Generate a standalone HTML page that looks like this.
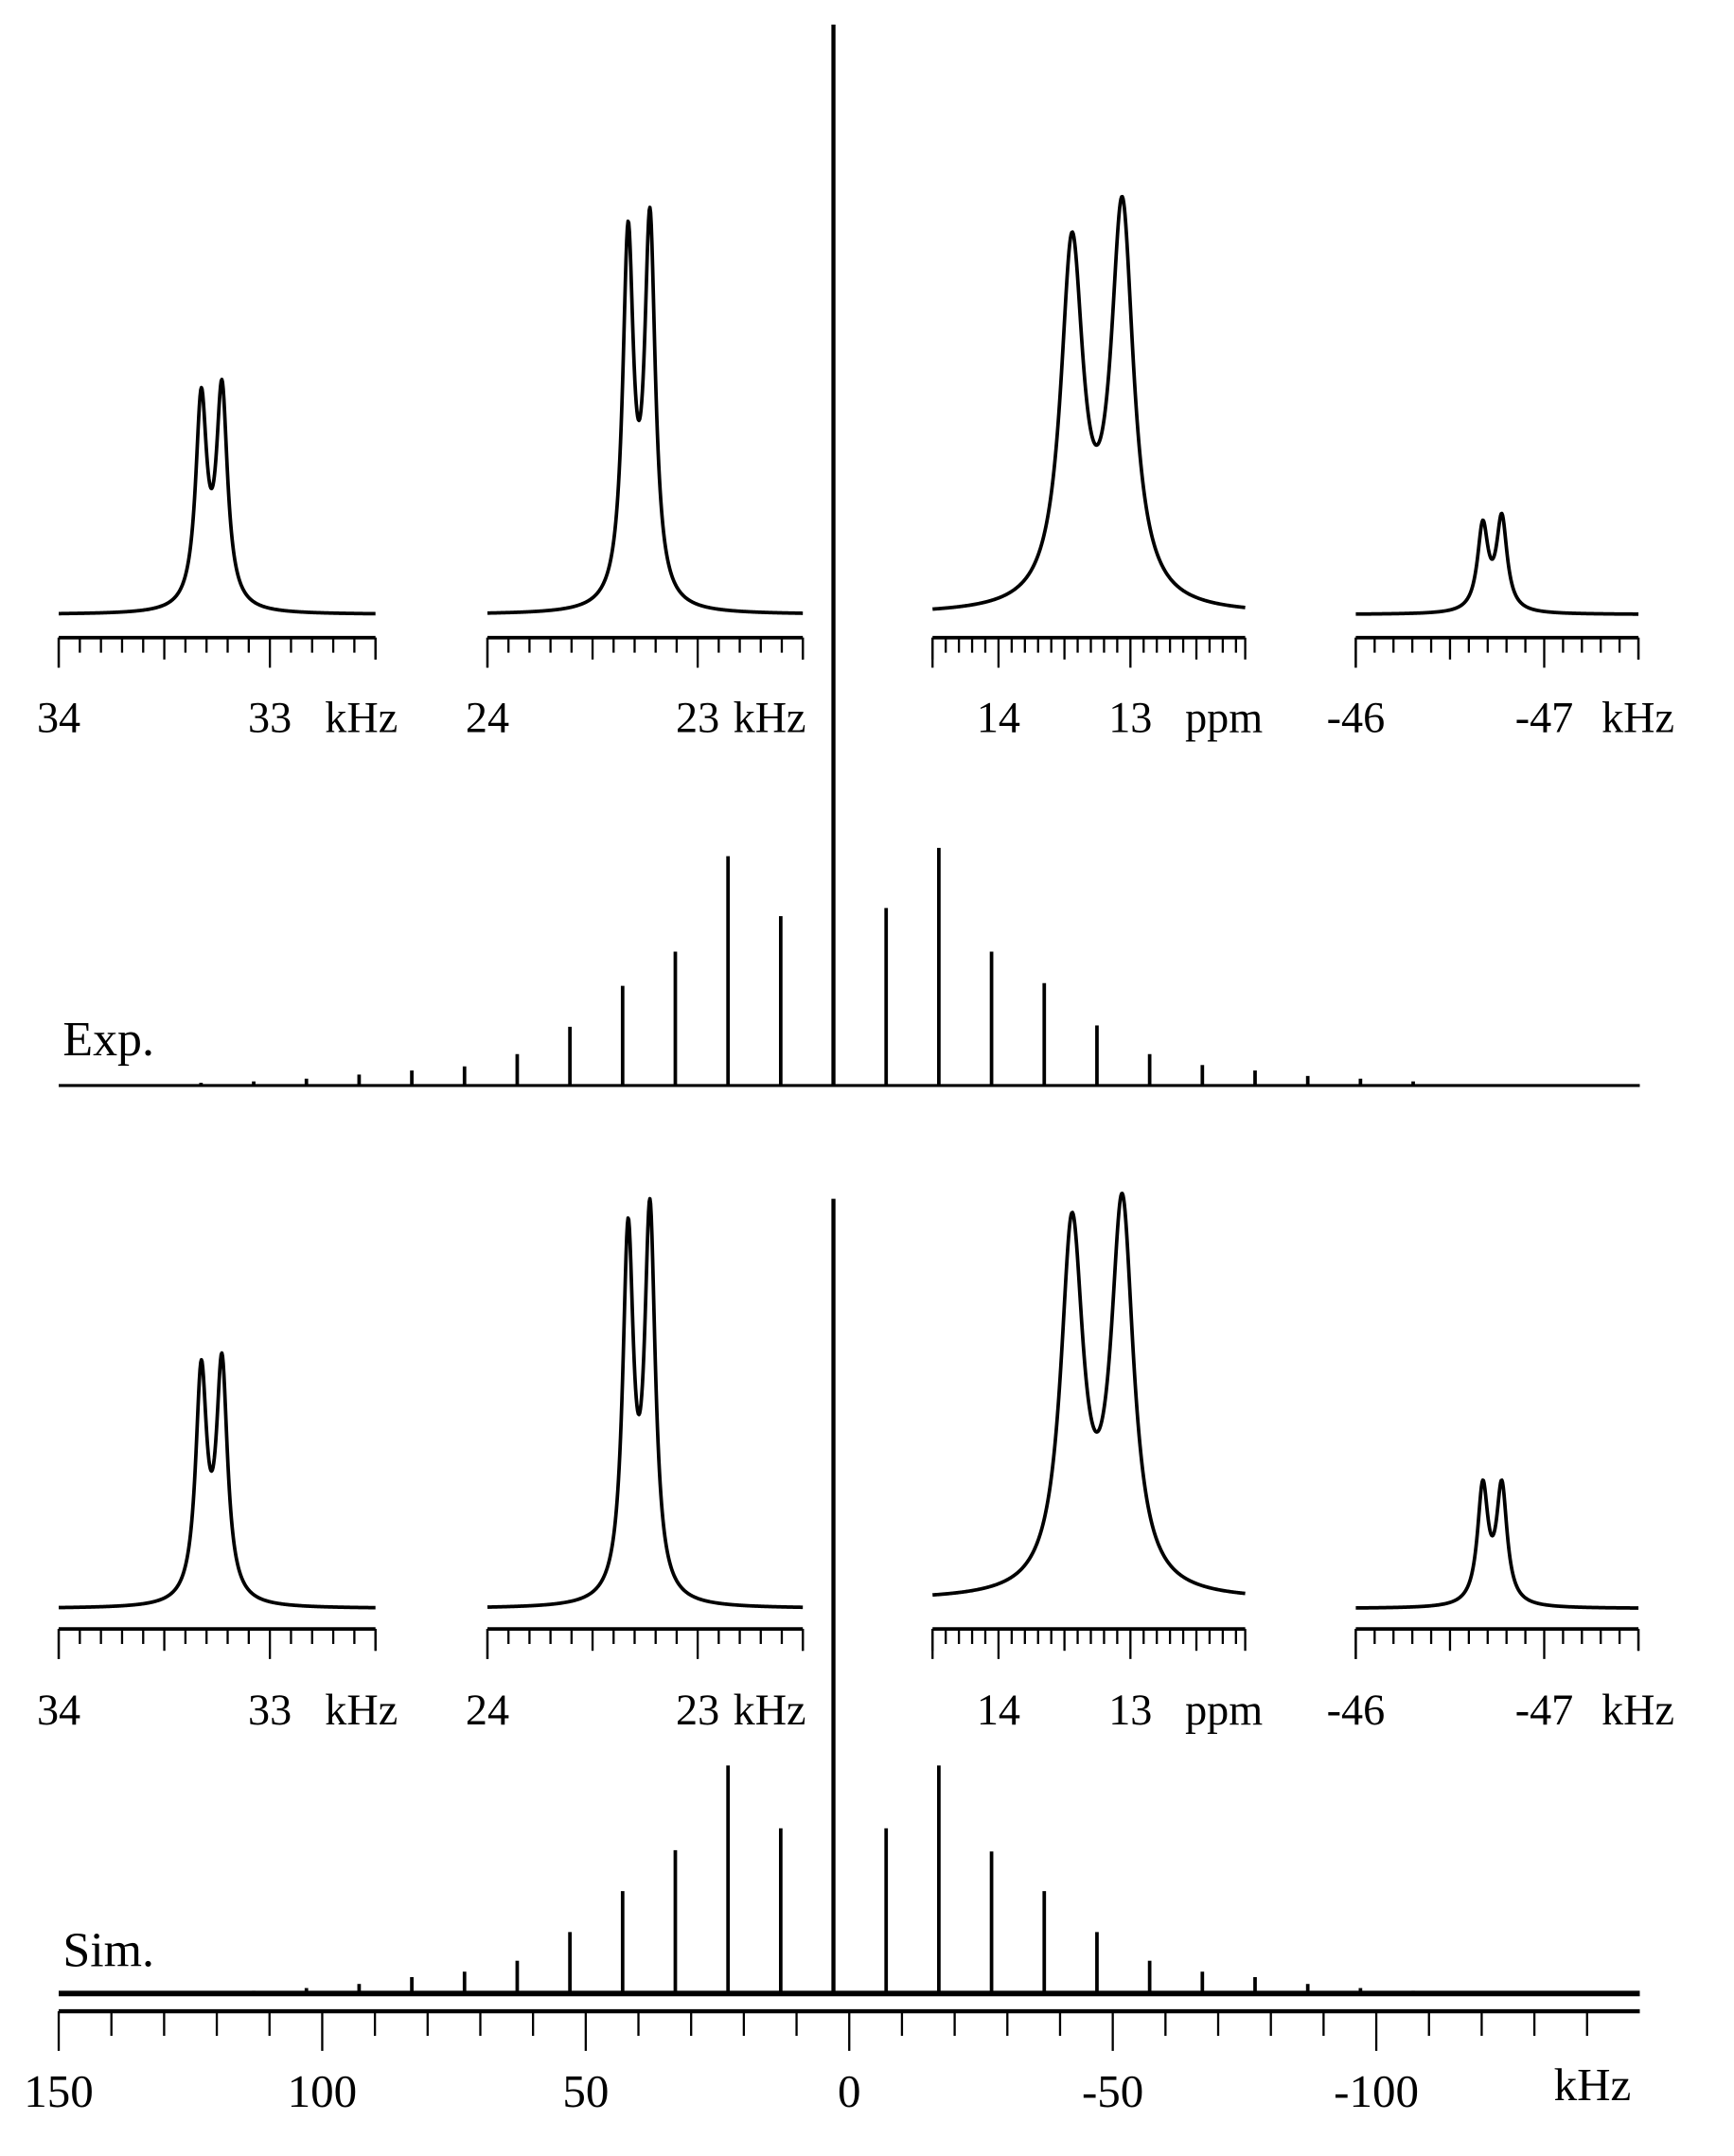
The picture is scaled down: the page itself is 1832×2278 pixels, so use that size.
<!DOCTYPE html>
<html><head><meta charset="utf-8"><style>
html,body{margin:0;padding:0;background:#fff}
svg{display:block}
text{font-family:"Liberation Serif",serif;fill:#000}
</style></head><body>
<svg id="chart" width="1832" height="2278" viewBox="0 0 1270 1579" preserveAspectRatio="none" xmlns="http://www.w3.org/2000/svg">
<g id="g"></g>
</svg>
<script>
// ---- data ----
const sidebandN = [12,11,10,9,8,7,6,5,4,3,2,1,-1,-2,-3,-4,-5,-6,-7,-8,-9,-10,-11,-12];
const expHeights = [2,3,5,8,11,14,23,43,73,98,168,124,130,174,98,75,44,23,15,11,7,5,3,0];
const simHeights = [1,2,4,7,12,16,24,45,75,105,167,121,121,167,104,75,45,24,16,12,7,4,2,1];
const centerKHz = 3;
const spacingKHz = 10;
const mainTicks = [150,100,50,0,-50,-100];

const insetStart = [34, 24, 14.5, -46];
const insetEnd = [32.5, 22.5, 12.13, -47.5];
const insetMajor1 = [34, 24, 14, -46];
const insetMajor2 = [33, 23, 13, -47];
const insetUnit = ['kHz','kHz','ppm','kHz'];
const peakA = [33.325, 23.331, 13.443, -46.674];
const peakB = [33.227, 23.227, 13.062, -46.775];
const widthHW = [0.032, 0.031, 0.103, 0.034];
const expHA = [166, 288, 280, 69];
const expHB = [172, 298, 306, 74];
const simHA = [182, 286, 284, 94];
const simHB = [187, 300, 298, 94];

const g = document.getElementById('g');
const NS = 'http://www.w3.org/2000/svg';
function el(tag, attrs, parent){const e=document.createElementNS(NS,tag);for(const k in attrs)e.setAttribute(k,attrs[k]);(parent||g).appendChild(e);return e;}
function txt(x,y,s,size,anchor,parent){const t=el('text',{x:x,y:y,'font-size':size,'text-anchor':anchor||'start'},parent);t.textContent=s;return t;}

const mx = v => 622 + (0 - v) * 3.86;
const axY = 1473;
const axisG = el('g',{});


el('line',{x1:mx(150),x2:mx(-150),y1:axY,y2:axY,stroke:'#000','stroke-width':3},axisG);
for(let v=150; v>=-140; v-=10){
  const major = v%50===0;
  el('line',{x1:mx(v),x2:mx(v),y1:axY,y2:axY+(major?29:18),stroke:'#000','stroke-width':1.6},axisG);
}
mainTicks.forEach(v=>{
  const t = txt(mx(v), 1543, String(v), 34, 'middle', axisG);
  
  
});
const ku = txt(1138, 1538, 'kHz', 34, 'start', axisG);



function sticks(baseY, heights, name, bw){
  const grp = el('g',{});
  
  
  el('line',{x1:mx(150),x2:mx(-150),y1:baseY,y2:baseY,stroke:'#000','stroke-width':bw},grp);
  sidebandN.forEach((n,i)=>{
    const h = heights[i]; if(h<=0) return;
    const x = mx(centerKHz + n*spacingKHz);
    const p = el('line',{x1:x,x2:x,y1:baseY,y2:baseY-h,stroke:'#000','stroke-width':2.6},grp);
    
    
  });
  return grp;
}
sticks(795, expHeights, 'exp-spectrum', 2.2);
sticks(1460, simHeights, 'sim-spectrum', 4);
const cl1 = el('line',{x1:mx(centerKHz),x2:mx(centerKHz),y1:18,y2:795,stroke:'#000','stroke-width':3});


const cl2 = el('line',{x1:mx(centerKHz),x2:mx(centerKHz),y1:878,y2:1460,stroke:'#000','stroke-width':3});



const expL = txt(46, 773, 'Exp.', 36);


const simL = txt(46, 1440, 'Sim.', 36);



const panelLeft = [43, 357, 683, 993];
const panelRight = [275, 588, 912, 1200];
function drawInset(i, baseY, axisLineY, labelY, hA, hB, prefix){
  const x0 = panelLeft[i], x1 = panelRight[i], v0 = insetStart[i], v1 = insetEnd[i];
  const sx = v => x0 + (v0 - v) / (v0 - v1) * (x1 - x0);
  const grp = el('g',{});
  
  
  const gw = widthHW[i], d = peakA[i]-peakB[i];
  const c = 1/(1+(d/gw)*(d/gw));
  const det = 1 - c*c;
  const A = (hA[i] - c*hB[i]) / det, B = (hB[i] - c*hA[i]) / det;
  let dstr = '';
  for(let px = x0; px <= x1; px += 0.5){
    const v = v0 - (px - x0) / (x1 - x0) * (v0 - v1);
    const ua = (v-peakA[i])/gw, ub = (v-peakB[i])/gw;
    const y = baseY - (A/(1+ua*ua) + B/(1+ub*ub));
    dstr += (dstr?'L':'M') + px.toFixed(2) + ',' + y.toFixed(2);
  }
  const tr = el('path',{d:dstr,fill:'none',stroke:'#000','stroke-width':2.6,'stroke-linejoin':'round'},grp);
  
  
  el('line',{x1:x0,x2:x1,y1:axisLineY,y2:axisLineY,stroke:'#000','stroke-width':2.6},grp);
  const step = 0.1;
  const startT = Math.ceil(Math.min(v0,v1)/step - 1e-6)*step;
  for(let k = 0; k < 100; k++){
    const v = Math.round((startT + k*step)*10)/10;
    if(v > Math.max(v0,v1)+1e-6) break;
    const x = sx(v);
    if(x < x0-0.5 || x > x1+0.5) continue;
    const r = Math.round(Math.abs(v)*10) % 10;
    const len = r===0 ? 22 : (r===5 ? 16 : 11);
    el('line',{x1:x,x2:x,y1:axisLineY,y2:axisLineY+len,stroke:'#000','stroke-width':1.6},grp);
  }
  el('line',{x1:x0,x2:x0,y1:axisLineY,y2:axisLineY+22,stroke:'#000','stroke-width':1.6},grp);
  el('line',{x1:x1,x2:x1,y1:axisLineY,y2:axisLineY+16,stroke:'#000','stroke-width':1.6},grp);
  const l1 = txt(sx(insetMajor1[i]), labelY, String(insetMajor1[i]), 32, 'middle', grp);
  
  
  const l2 = txt(sx(insetMajor2[i]), labelY, String(insetMajor2[i]), 32, 'middle', grp);
  
  
  const ux = [238, 537, 868, 1173][i];
  const u = txt(ux, labelY, insetUnit[i], 32, 'start', grp);
  
  
}
const expBase = [450, 450, 450, 450];
const simBase = [1178, 1178, 1172, 1178];
for(let i=0;i<4;i++){
  drawInset(i, expBase[i], 467, 536, expHA, expHB, 'exp');
  drawInset(i, simBase[i], 1193, 1263, simHA, simHB, 'sim');
}
</script>
</body></html>
